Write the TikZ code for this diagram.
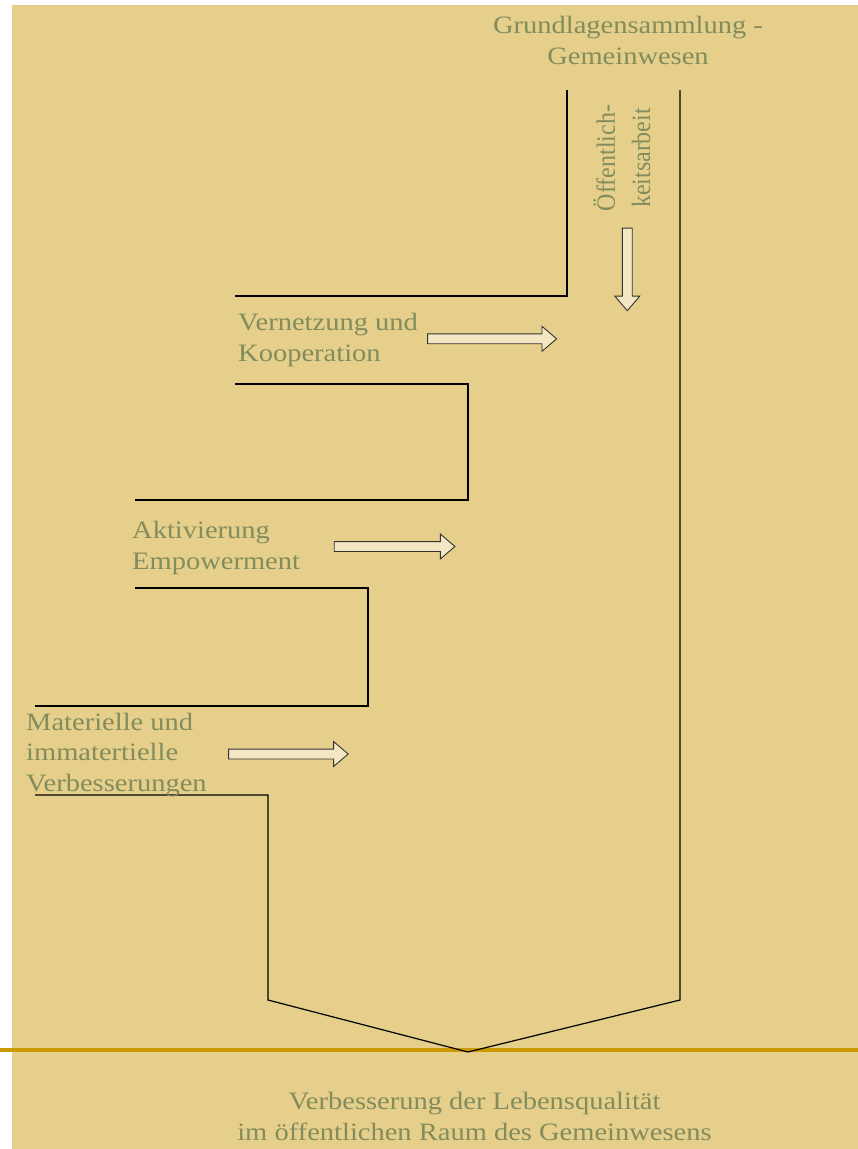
\documentclass[tikz,border=0pt]{standalone}
\usepackage{fontspec}
\setmainfont{Liberation Serif}
\usetikzlibrary{shapes.arrows}
\definecolor{slidebg}{RGB}{230,207,139}
\definecolor{labeltext}{RGB}{130,140,92}
\definecolor{arrowfill}{RGB}{242,231,194}
\definecolor{rulegold}{RGB}{204,153,0}

\begin{document}
\begin{tikzpicture}[x=1pt,y=-1pt,
    lbl/.style={text=labeltext,font=\fontsize{25}{30.5}\selectfont,inner sep=0pt,xscale=1.14},
    blockarrow/.style={single arrow,draw=black!80,fill=arrowfill,line width=0.9pt,
      inner xsep=0pt,inner ysep=4.5pt,minimum width=24pt,single arrow head extend=7.5pt,
      single arrow tip angle=81}]
        \useasboundingbox (0,0) rectangle (858,1149);
        % Slide background and rule
        \fill[slidebg] (12,5) rectangle (858,1149);
        \draw[rulegold, line width=3.5pt] (0,1050) -- (858,1050);
        %
        % Funnel outline:
        \draw[line width=1.2pt] (567,90) -- (567,296) -- (235,296);
        \draw[line width=1.2pt] (235,384) -- (468,384) -- (468,500) -- (135,500);
        \draw[line width=1.2pt] (135,588) -- (368,588) -- (368,706) -- (35,706);
        \draw[line width=1.2pt] (35,795) -- (268,795) -- (268,1000) -- (468,1052)
             -- (680,1000) -- (680,90);
        %
        % Labels (base = baseline of the last line)
        \node[lbl, anchor=base, align=center] (grundlagen) at (628,64)
             {Grundlagensammlung -\\Gemeinwesen};
        \node[lbl, anchor=base west, align=left] (vernetzung) at (238,361)
             {Vernetzung und\\Kooperation};
        \node[lbl, anchor=base west, align=left] (aktivierung) at (132,569)
             {Aktivierung\\Empowerment};
        \node[lbl, anchor=base west, align=left] (materielle) at (26,791)
             {Materielle und\\immatertielle\\Verbesserungen};
        \node[lbl, anchor=base, align=center] (lebensqualitaet) at (474.5,1140)
             {Verbesserung der Lebensqualität\\im öffentlichen Raum des Gemeinwesens};
        \node[text=labeltext, font=\fontsize{24}{32}\selectfont, inner sep=0pt,
              rotate=90, yscale=1.1, anchor=base, align=center] (oeffentlich) at (650,158)
             {Öffentlich-\\keitsarbeit};
        %
        % Block arrows
        \node[blockarrow, minimum height=129pt] (pfeilvernetzung) at (489.2,338.8) {};
        \node[blockarrow, minimum height=120.7pt] (pfeilaktivierung) at (391.7,546.5) {};
        \node[blockarrow, minimum height=119.6pt] (pfeilmaterielle) at (285.5,754) {};
        \node[blockarrow, minimum height=82.6pt, rotate=-90] (pfeiloeffentlich) at (627.3,266.5) {};
\end{tikzpicture}
\end{document}
